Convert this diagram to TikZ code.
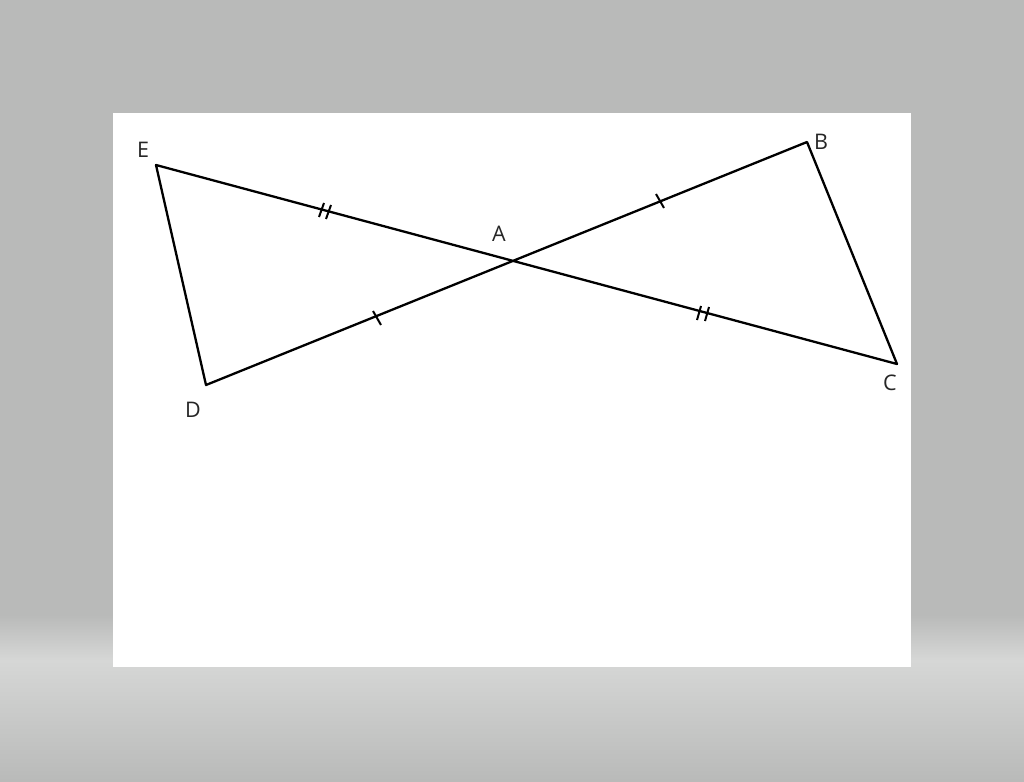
\documentclass[tikz,border=0pt]{standalone}
\usepackage{fontspec}
\setmainfont{Open Sans}
\definecolor{bggray}{HTML}{B9BAB9}
\definecolor{bglight}{HTML}{D6D7D6}
\begin{document}
\begin{tikzpicture}[x=1pt,y=-1pt,
  seg/.style={line width=2.3pt,line cap=round,line join=round},
  tick/.style={line width=2pt},
  lab/.style={font=\fontsize{21.5}{21.5}\selectfont,inner sep=0pt,text=black!85}]
\useasboundingbox (0,0) rectangle (1024,781);
\fill[bggray] (0,0) rectangle (1024,615);
\shade[top color=bggray,bottom color=bglight] (0,615) rectangle (1024,660);
\shade[top color=bglight,bottom color=bggray] (0,660) rectangle (1024,781);
\fill[white] (113,113) rectangle (911,667);
\coordinate (E) at (156,165);
\coordinate (B) at (807,142);
\coordinate (A) at (513,261);
\coordinate (D) at (206,385);
\coordinate (C) at (897,364);
\draw[seg] (E) -- (C) -- (B) -- (D) -- cycle;
\node[lab] (lE) at (143,150) {E};
\node[lab] (lB) at (821,142) {B};
\node[lab] (lA) at (499,234) {A};
\node[lab] (lD) at (193,410) {D};
\node[lab] (lC) at (890,383) {C};
% single ticks
\draw[tick] (656,194) -- (664,208);
\draw[tick] (373,311) -- (381,325);
% double ticks
\draw[tick] (319,217) -- (324,203);
\draw[tick] (326,219) -- (331,205);
\draw[tick] (697,320) -- (701,306);
\draw[tick] (705,321) -- (709,307);
\end{tikzpicture}
\end{document}
